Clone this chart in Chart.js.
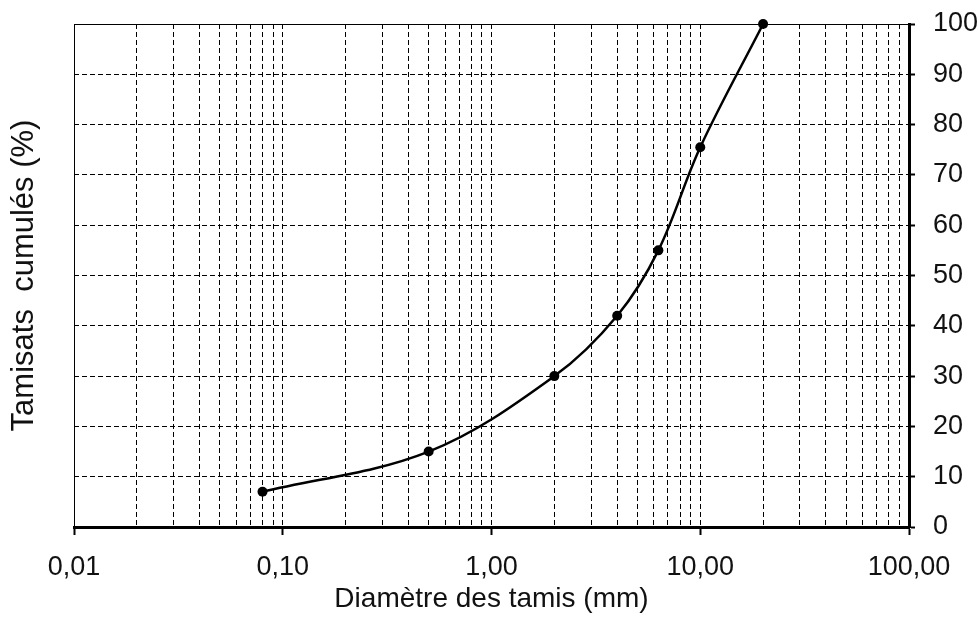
<!DOCTYPE html>
<html>
<head>
<meta charset="utf-8">
<script src="https://cdn.jsdelivr.net/npm/chart.js@4/dist/chart.umd.min.js"></script>
<style>
  html, body { margin: 0; padding: 0; background: #fff; }
</style>
</head>
<body>
<canvas id="grading" width="979" height="618"></canvas>
<script>
// Sieve analysis: cumulative passing vs sieve size (log scale)
const SIEVE_MM    = [0.08, 0.5, 2, 4, 6.3, 10, 20];
const PASSING_PCT = [7, 15, 30, 42, 55, 75.5, 100];

const X_DECADES       = [0.01, 0.1, 1, 10, 100];
const X_DECADE_LABELS = ['0,01', '0,10', '1,00', '10,00', '100,00'];
const X_MINOR_STEPS   = [1, 2, 3, 4, 5, 6, 7, 8, 9];
const Y_TICKS         = [0, 10, 20, 30, 40, 50, 60, 70, 80, 90, 100];

const X_TITLE = 'Diamètre des tamis (mm)';
const Y_TITLE = 'Tamisats  cumulés (%)';

const DASH = [5, 3];

// pick a condensed face if the box has one, the picture's glyphs are tall and narrow
function fontAvailable(name) {
  const ctx = document.createElement('canvas').getContext('2d');
  ctx.font = '40px monospace';
  const a = ctx.measureText('Diamètre 100,00').width;
  ctx.font = `40px "${name}", monospace`;
  return ctx.measureText('Diamètre 100,00').width !== a;
}
const NARROW      = fontAvailable('Liberation Sans Narrow');
const TEXT_FACE   = NARROW ? '"Liberation Sans Narrow", "Liberation Sans", Arial, sans-serif'
                           : '"Liberation Sans", Arial, sans-serif';
const TICK_SIZE   = NARROW ? 30 : 27;
const XTITLE_SIZE = NARROW ? 32 : 28;

function decadeIndex(v) {
  return X_DECADES.findIndex(d => Math.abs(d - v) < d * 1e-6);
}

function xGridValues() {
  const vals = [];
  X_DECADES.slice(0, -1).forEach(d =>
    X_MINOR_STEPS.forEach(m => vals.push(+(d * m).toPrecision(6))));
  vals.push(X_DECADES[X_DECADES.length - 1]);
  return vals;
}

Chart.defaults.color = '#111';

new Chart(document.getElementById('grading'), {
  type: 'line',
  data: {
    datasets: [{
      data: SIEVE_MM.map((x, i) => ({ x, y: PASSING_PCT[i] })),
      borderColor: '#000',
      backgroundColor: '#000',
      borderWidth: 2.5,
      pointRadius: 5,
      pointBackgroundColor: '#000',
      pointBorderWidth: 0,
      tension: 0.35,
      clip: false,
    }]
  },
  options: {
    responsive: false,
    animation: false,
    layout: { padding: { top: 24, left: 0, right: 0, bottom: 0 } },
    plugins: { legend: { display: false }, tooltip: { enabled: false } },
    scales: {
      x: {
        type: 'logarithmic',
        position: 'bottom',
        min: 0.01,
        max: 100,
        afterBuildTicks: s => { s.ticks = xGridValues().map(value => ({ value })); },
        afterFit: s => { s.height = 91; },
        ticks: {
          autoSkip: false,
          maxRotation: 0,
          padding: 16,
          font: { family: TEXT_FACE, size: TICK_SIZE },
          callback: v => {
            const k = decadeIndex(v);
            return k >= 0 ? X_DECADE_LABELS[k] : '';
          }
        },
        grid: {
          color: '#000',
          lineWidth: 1,
          tickLength: 8,
          tickWidth: 2,
          tickColor: c => (c.tick && decadeIndex(c.tick.value) >= 0) ? '#000' : 'rgba(0,0,0,0)',
        },
        border: {
          color: '#000',
          width: 3,
          dash: c => (c.index === 0 ? [] : DASH),
        },
        title: {
          display: true,
          text: X_TITLE,
          font: { family: TEXT_FACE, size: XTITLE_SIZE },
          padding: { top: 0, bottom: 2 },
        }
      },
      y: {
        type: 'linear',
        position: 'right',
        min: 0,
        max: 100,
        afterBuildTicks: s => { s.ticks = Y_TICKS.map(value => ({ value })); },
        afterFit: s => { s.width = 70; s.paddingTop = 12; s.paddingBottom = 12; },
        ticks: {
          padding: 18,
          font: { family: TEXT_FACE, size: TICK_SIZE },
        },
        grid: {
          color: '#000',
          lineWidth: 1,
          tickLength: 6,
          tickWidth: 2,
          tickColor: '#000',
        },
        border: {
          color: '#000',
          width: 3,
          dash: c => (c.tick && c.tick.value === 100 ? [] : DASH),
        }
      },
      yTitle: {
        type: 'linear',
        position: 'left',
        min: 0,
        max: 100,
        afterFit: s => { s.width = 74; },
        ticks: { display: false },
        grid: { display: false },
        border: { display: false },
        title: {
          display: true,
          text: Y_TITLE,
          font: { family: '"Liberation Sans", Arial, sans-serif', size: 31 },
          padding: { top: 6, bottom: 0 },
        }
      }
    }
  }
});
</script>
</body>
</html>
